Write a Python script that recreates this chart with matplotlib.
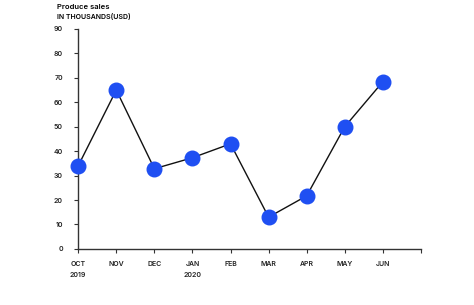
import matplotlib
matplotlib.use("Agg")
import matplotlib.pyplot as plt

months = ["OCT\n2019", "NOV", "DEC", "JAN\n2020", "FEB", "MAR", "APR", "MAY", "JUN", ""]
sales = [34, 65, 32.8, 37.3, 43, 13, 21.7, 50, 68.4]
yticks = [0, 10, 20, 30, 40, 50, 60, 70, 80, 90]

plt.rcParams['font.family'] = ['Inter', 'DejaVu Sans']

fig = plt.figure(figsize=(4.74, 3.05), dpi=100)
ax = fig.add_axes([0.165, 0.184, 0.723, 0.721])

x = list(range(len(sales)))
ax.plot(x, sales, color='#111111', lw=1.0, zorder=2)
ax.scatter(x, sales, s=110, color='#1f4ff2', zorder=3, clip_on=False)

ax.set_xlim(0, 9)
ax.set_ylim(0, 90)
ax.set_xticks(range(len(months)))
ax.set_xticklabels(months, fontsize=5, fontweight='semibold', color='#222222', linespacing=1.9)
ax.set_yticks(yticks)
ax.set_yticklabels([str(v) for v in yticks], fontsize=5, fontweight='semibold', color='#222222')
ax.tick_params(axis='both', length=3, width=0.8, color='#333333', pad=8)
ax.tick_params(axis='x', pad=6)

for s in ['top', 'right']:
    ax.spines[s].set_visible(False)
for s in ['left', 'bottom']:
    ax.spines[s].set_color('#333333')
    ax.spines[s].set_linewidth(1.0)

fig.text(57 / 474, 1 - 7 / 305, "Produce sales", fontsize=5.5, fontweight='semibold', va='center', ha='left')
fig.text(57 / 474, 1 - 17 / 305, "IN THOUSANDS(USD)", fontsize=5, fontweight='semibold', va='center', ha='left')

fig.savefig("out.png", dpi=100)
